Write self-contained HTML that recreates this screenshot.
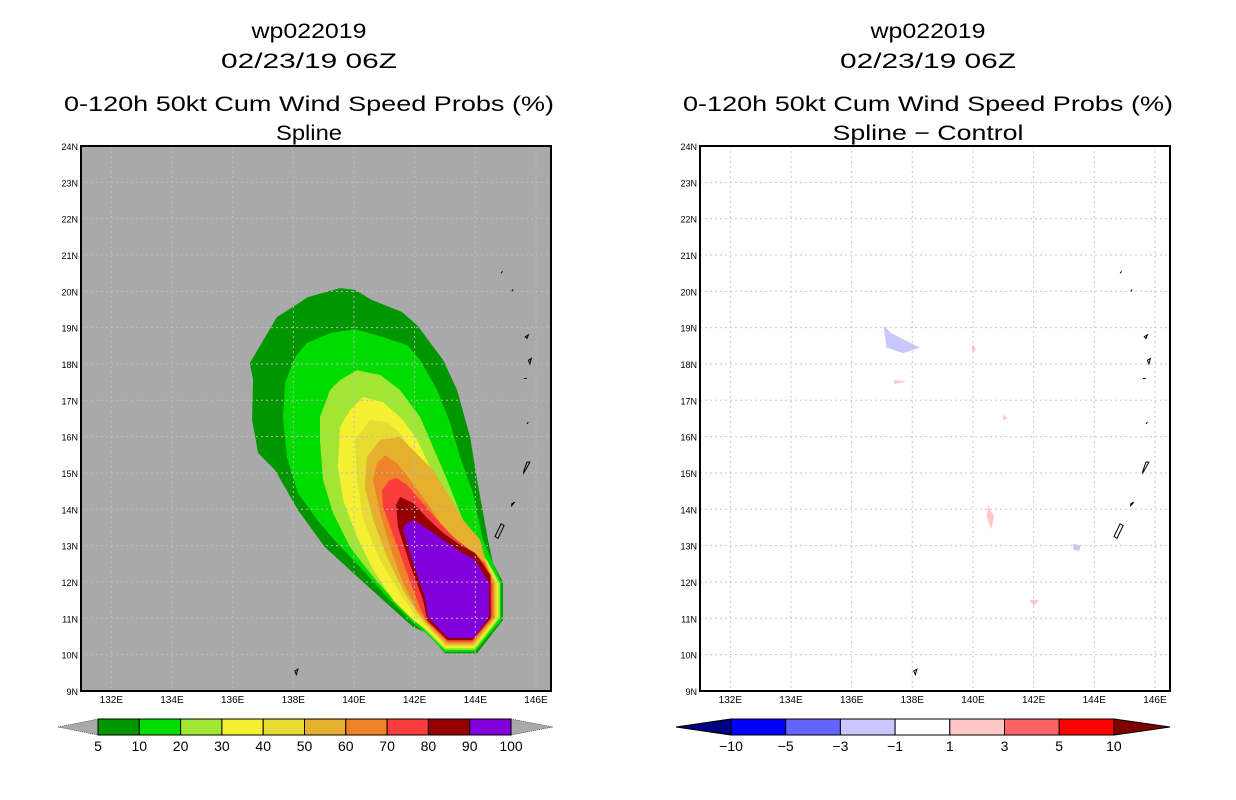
<!DOCTYPE html>
<html><head><meta charset="utf-8"><style>
body{margin:0;background:#fff;width:1236px;height:800px;overflow:hidden}
svg{display:block;font-family:"Liberation Sans",sans-serif}
</style></head><body>
<svg id="s" width="1236" height="800"></svg>
<script>
const lonTicks=[132,134,136,138,140,142,144,146];
const latTicks=[9,10,11,12,13,14,15,16,17,18,19,20,21,22,23,24];
const probLevels=[5,10,20,30,40,50,60,70,80,90,100];
const probColors=["#009600","#00dc00","#a0e632","#f5f032","#e6dc32","#e6af2d","#f08228","#fa3c3c","#960000","#8200dc"];
const diffLevels=[-10,-5,-3,-1,1,3,5,10];
const diffColors=["#0000ff","#6464ff","#c8c8ff","#ffffff","#ffc8c8","#ff6464","#ff0000"];
const c5=[[139.54,20.09],[140.03,20.04],[140.59,19.76],[141.58,19.43],[142.08,19.07],[142.94,18.11],[143.4,17.28],[143.83,15.99],[144.06,14.81],[144.42,13.16],[144.58,12.52],[144.91,12.0],[144.91,10.95],[144.06,10.04],[143.0,10.04],[142.41,10.6],[141.95,10.76],[140.96,11.5],[139.97,12.25],[139.04,12.96],[138.15,13.98],[137.4,15.08],[136.84,15.55],[136.64,16.46],[136.67,17.56],[136.57,18.03],[137.46,19.29],[138.48,19.84]];
const c10=[[140.03,18.96],[140.96,18.74],[141.75,18.52],[142.18,18.11],[142.74,17.28],[143.17,16.38],[143.5,15.44],[143.92,14.45],[144.25,13.16],[144.72,12.25],[144.86,12.0],[144.86,10.95],[143.99,10.07],[143.0,10.07],[142.34,10.62],[141.95,10.87],[141.09,11.59],[140.2,12.41],[139.44,13.07],[138.78,13.71],[138.15,14.45],[137.79,15.44],[137.66,16.54],[137.73,17.48],[138.06,18.19],[138.45,18.58],[139.21,18.85]];
const c20=[[140.1,17.83],[140.86,17.7],[141.52,17.28],[142.18,16.54],[142.61,15.71],[143.07,14.81],[143.5,13.9],[143.92,13.07],[144.39,12.6],[144.81,11.97],[144.81,11.01],[143.99,10.13],[143.0,10.13],[142.34,10.68],[141.52,11.31],[140.63,12.14],[139.87,12.96],[139.31,13.9],[138.98,14.81],[138.88,15.91],[138.88,16.54],[139.21,17.28],[139.54,17.56]];
const c30=[[140.3,17.09],[140.96,16.95],[141.62,16.46],[142.08,15.91],[142.51,15.16],[142.94,14.34],[143.4,13.71],[143.92,12.96],[144.36,12.6],[144.76,11.97],[144.76,11.01],[143.97,10.18],[143.02,10.18],[142.34,10.73],[141.95,10.95],[141.29,11.5],[140.63,12.33],[140.1,13.24],[139.64,14.26],[139.47,15.16],[139.54,16.27],[139.87,16.73]];
const c40=[[140.53,16.46],[141.09,16.4],[141.52,16.1],[141.95,15.55],[142.41,14.81],[142.84,14.06],[143.4,13.35],[143.92,12.88],[144.34,12.6],[144.71,11.97],[144.71,11.01],[143.96,10.22],[143.03,10.22],[142.41,10.76],[142.01,11.09],[141.52,11.7],[140.86,12.6],[140.3,13.71],[140.1,14.81],[140.03,15.91]];
const c50=[[141.52,15.99],[141.95,15.63],[142.61,15.08],[143.07,14.45],[143.59,13.71],[144.16,13.16],[144.35,12.55],[144.66,11.97],[144.66,11.01],[143.94,10.27],[143.04,10.27],[142.41,10.82],[142.08,11.15],[141.62,11.78],[141.09,12.69],[140.63,13.71],[140.36,14.61],[140.43,15.44],[140.86,15.91]];
const c60=[[141.02,15.49],[141.42,15.27],[141.85,14.81],[142.41,14.17],[142.94,13.51],[143.5,13.07],[144.06,12.74],[144.33,12.52],[144.61,11.97],[144.61,11.01],[143.92,10.32],[143.07,10.32],[142.41,10.87],[142.08,11.23],[141.62,11.97],[141.19,12.96],[140.86,13.9],[140.63,14.81],[140.76,15.27]];
const c70=[[141.42,14.86],[141.75,14.67],[142.18,14.26],[142.74,13.71],[143.27,13.24],[143.92,12.82],[144.3,12.52],[144.56,11.97],[144.56,11.01],[143.9,10.36],[143.08,10.36],[142.41,10.9],[142.18,11.28],[141.75,12.25],[141.35,13.16],[140.96,14.06],[140.92,14.53],[141.19,14.81]];
const c80=[[141.52,14.34],[141.95,14.17],[142.41,13.76],[142.94,13.35],[143.5,13.02],[143.99,12.8],[144.5,12.19],[144.51,11.01],[143.9,10.4],[143.09,10.4],[142.41,10.95],[142.28,11.5],[141.85,12.47],[141.45,13.51],[141.39,14.12]];
const c90=[[141.95,13.71],[142.61,13.35],[143.4,12.88],[143.83,12.69],[143.99,12.6],[144.45,11.97],[144.45,11.04],[143.95,10.46],[143.1,10.46],[142.45,11.03],[142.34,11.59],[141.95,12.52],[141.62,13.43],[141.68,13.57]];
const probContours=[c5,c10,c20,c30,c40,c50,c60,c70,c80,c90];
const dBlue1=[[137.05,19.05],[137.3,18.85],[138.25,18.45],[137.7,18.3],[137.15,18.45]];
const dBlue2=[[143.3,13.05],[143.55,13.0],[143.5,12.85],[143.3,12.9]];
const dPink=[[[140.0,18.55],[140.1,18.4],[140.0,18.3],[139.95,18.45]],[[137.4,17.55],[137.8,17.52],[137.4,17.45]],[[141.0,16.6],[141.15,16.5],[141.0,16.45]],[[140.5,14.1],[140.7,13.8],[140.6,13.45],[140.45,13.8]],[[141.85,11.5],[142.2,11.5],[142.0,11.35]]];
const islands=[[[144.75,13.2],[144.95,13.55],[144.85,13.6],[144.65,13.25]],[[145.2,14.15],[145.3,14.2],[145.2,14.1]],[[145.6,15.0],[145.8,15.3],[145.7,15.3],[145.6,15.05]],[[145.7,16.35],[145.75,16.4]],[[145.6,17.6],[145.7,17.6]],[[145.75,18.1],[145.85,18.15],[145.8,18.0]],[[145.65,18.75],[145.75,18.8],[145.7,18.7]],[[145.2,20.0],[145.25,20.05]],[[144.85,20.5],[144.9,20.55]],[[138.05,9.55],[138.15,9.6],[138.1,9.45]]];

const NS="http://www.w3.org/2000/svg";
const svg=document.getElementById('s');
function el(t,a,p){const e=document.createElementNS(NS,t);for(const k in a)e.setAttribute(k,a[k]);(p||svg).appendChild(e);return e;}
function txt(x,y,s,size,anchor,p,len){const a={x:x,y:y,'font-size':size,'text-anchor':anchor||'middle',fill:'#000'};if(len){a.textLength=len;a.lengthAdjust='spacingAndGlyphs';}const e=el('text',a,p);e.textContent=s;return e;}

function panel(ox,title2,isDiff,t2len){
  const g=el('g',{});
  
  
  const X=lon=>ox+(lon-131)*30.33, Y=lat=>146+(24-lat)*36.33;
  const cx=ox+228;
  const t1=txt(cx,38,'wp022019',21,'middle',g,115);
  const t2=txt(cx,68,'02/23/19 06Z',21,'middle',g,176);
  const t3=txt(cx,111,'0-120h 50kt Cum Wind Speed Probs (%)',21,'middle',g,490);
  const t4=txt(cx,140,title2,21,'middle',g,t2len);
  const bg=el('rect',{x:ox,y:146,width:470,height:545,fill:isDiff?'#fff':'#a9a9a9'},g);
  
  const pts=a=>a.map(p=>X(p[0]).toFixed(1)+','+Y(p[1]).toFixed(1)).join(' ');
  if(!isDiff){
    probContours.forEach((c,i)=>{const p=el('polygon',{points:pts(c),fill:probColors[i]},g);
      });
  } else {
    [dBlue1,dBlue2].forEach(c=>{const p=el('polygon',{points:pts(c),fill:diffColors[2]},g);
      });
    dPink.forEach(c=>{const p=el('polygon',{points:pts(c),fill:diffColors[4]},g);
      });
  }
  const gc=isDiff?'#c8c8c8':'#bcbcbc';
  for(let lon=132;lon<=146;lon+=2){const l=el('line',{x1:X(lon),x2:X(lon),y1:146,y2:691,stroke:gc,'stroke-dasharray':'2,3'},g);
    }
  for(let lat=10;lat<=23;lat++){const l=el('line',{x1:ox,x2:ox+470,y1:Y(lat),y2:Y(lat),stroke:gc,'stroke-dasharray':'2,3'},g);
    }
  islands.forEach(c=>{const p=el('polygon',{points:pts(c),fill:'none',stroke:'#000','stroke-width':1},g);
    });
  const fr=el('rect',{x:ox,y:146,width:470,height:545,fill:'none',stroke:'#000','stroke-width':2},g);
  
  lonTicks.forEach(l=>{const t=txt(X(l),703,l+'E',10,'middle',g);});
  latTicks.forEach(l=>{const t=txt(ox-3,Y(l)+4,l+'N',9,'end',g);});
  const cb=el('g',{},g);
  if(!isDiff){
    const x0=98,w=41.3;
    el('polygon',{points:`58,727 ${x0},719 ${x0},735`,fill:'#a9a9a9',stroke:'#000','stroke-dasharray':'1,1','stroke-width':0.5},cb);
    el('polygon',{points:`${x0+10*w},719 553,727 ${x0+10*w},735`,fill:'#a9a9a9',stroke:'#000','stroke-dasharray':'1,1','stroke-width':0.5},cb);
    probColors.forEach((c,i)=>{el('rect',{x:x0+i*w,y:719,width:w,height:16,fill:c,stroke:'#000'},cb);});
    probLevels.forEach((v,i)=>{const t=txt(x0+i*w,751,String(v),14,'middle',cb);});
  } else {
    const x0=731,w=54.7;
    el('polygon',{points:`676,727 ${x0},719 ${x0},735`,fill:'#000080',stroke:'#000'},cb);
    el('polygon',{points:`${x0+7*w},719 1170,727 ${x0+7*w},735`,fill:'#800000',stroke:'#000'},cb);
    diffColors.forEach((c,i)=>{el('rect',{x:x0+i*w,y:719,width:w,height:16,fill:c,stroke:'#000'},cb);});
    diffLevels.forEach((v,i)=>{const t=txt(x0+i*w,751,(v<0?'\u2212':'')+Math.abs(v),14,'middle',cb);});
  }
}
panel(81,'Spline',false,66);
panel(700,'Spline \u2212 Control',true,191);
</script>
</body></html>
